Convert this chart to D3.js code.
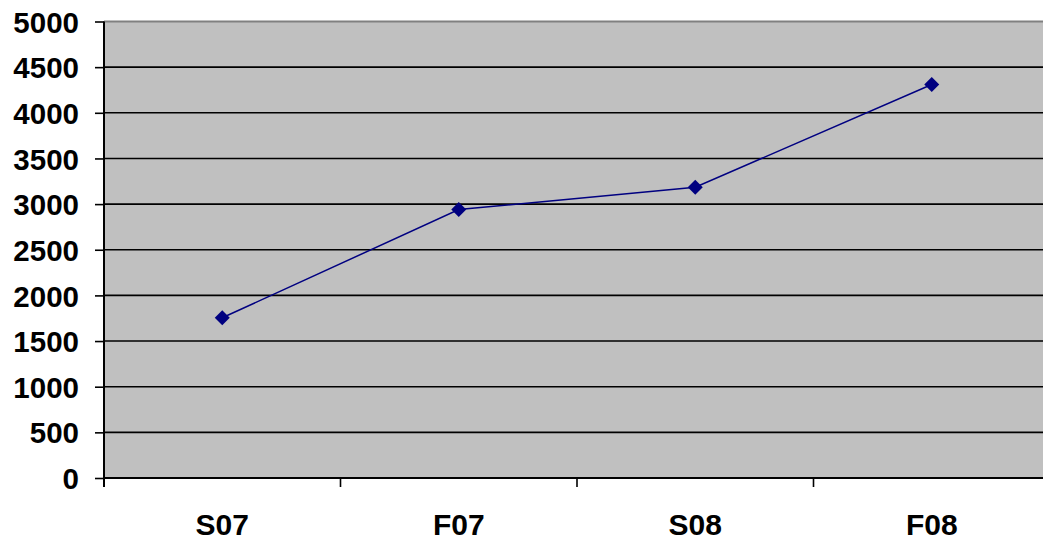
<!DOCTYPE html>
<html><head><meta charset="utf-8">
<script src="https://cdn.jsdelivr.net/npm/d3@7"></script>
<style>html,body{margin:0;padding:0;background:#fff;overflow:hidden}</style>
</head><body>
<svg id="c" width="1043" height="540"></svg>
<script>
const categories = ["S07", "F07", "S08", "F08"];
const values = [1755, 2940, 3185, 4310];
const yTicks = [0, 500, 1000, 1500, 2000, 2500, 3000, 3500, 4000, 4500, 5000];

const svg = d3.select("#c");
const mLeft = 104, mRight = 1050, mTop = 21.5, mBottom = 478;
const x = d3.scaleBand().domain(categories).range([mLeft, mRight]);
const y = d3.scaleLinear().domain([0, 5000]).range([mBottom, mTop]);
const font = "Liberation Sans, Arial, sans-serif";

svg.append("rect").attr("x", mLeft).attr("y", mTop).attr("width", mRight - mLeft).attr("height", mBottom - mTop).attr("fill", "#c0c0c0");
svg.append("line").attr("x1", mLeft).attr("x2", mRight).attr("y1", mTop).attr("y2", mTop).attr("stroke", "#808080").attr("stroke-width", 2);

// gridlines
svg.append("g").selectAll("line").data(yTicks.filter(d => d > 0 && d < 5000)).join("line")
  .attr("x1", mLeft).attr("x2", mRight).attr("y1", d => y(d)).attr("y2", d => y(d))
  .attr("stroke", "#000").attr("stroke-width", 1.6);

// y axis
const yAxis = d3.axisLeft(y).tickValues(yTicks).tickFormat(d3.format("d")).tickSize(9).tickPadding(16);
const gy = svg.append("g").attr("transform", `translate(${mLeft},0)`).call(yAxis);
gy.select(".domain").remove();
gy.selectAll(".tick line").attr("stroke", "#000").attr("stroke-width", 1.6);
gy.selectAll("text").attr("font-family", font).attr("font-weight", "bold").attr("font-size", 29.5).attr("fill", "#000").attr("dy", "0.36em");
svg.append("line").attr("x1", mLeft).attr("x2", mLeft).attr("y1", mTop).attr("y2", mBottom + 9).attr("stroke", "#000").attr("stroke-width", 2);

// x axis
svg.append("line").attr("x1", mLeft).attr("x2", mRight).attr("y1", mBottom).attr("y2", mBottom).attr("stroke", "#000").attr("stroke-width", 2);
svg.append("g").selectAll("line").data(categories.slice(1)).join("line")
  .attr("x1", d => x(d)).attr("x2", d => x(d)).attr("y1", mBottom).attr("y2", mBottom + 9)
  .attr("stroke", "#000").attr("stroke-width", 1.6);
svg.append("g").selectAll("text").data(categories).join("text")
  .attr("x", d => x(d) + x.bandwidth() / 2).attr("y", 535)
  .attr("text-anchor", "middle")
  .attr("font-family", font).attr("font-weight", "bold").attr("font-size", 30)
  .text(d => d);

// line
const cx = (d, i) => x(categories[i]) + x.bandwidth() / 2;
svg.append("path").datum(values)
  .attr("d", d3.line().x((d, i) => cx(d, i)).y(d => y(d)))
  .attr("fill", "none").attr("stroke", "#000080").attr("stroke-width", 1.5);
svg.append("g").selectAll("path").data(values).join("path")
  .attr("transform", (d, i) => `translate(${cx(d, i)},${y(d)})`)
  .attr("d", "M0,-7.5L7.5,0L0,7.5L-7.5,0Z").attr("fill", "#000080");
</script>
</body></html>
